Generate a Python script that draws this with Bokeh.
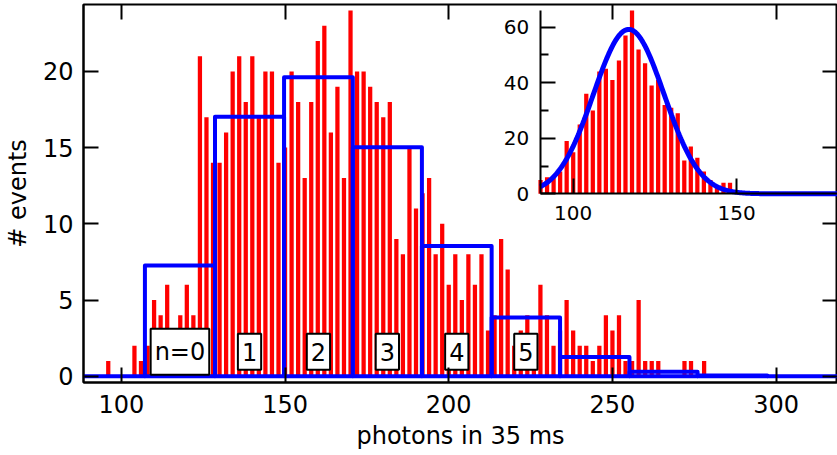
import numpy as np
from bokeh.plotting import figure
from bokeh.models import Range1d, LinearAxis, FixedTicker, ColumnDataSource
from bokeh.core.properties import value
from bokeh.embed import file_html
from bokeh.resources import INLINE

# ---------------- data ----------------
# main histogram: photon-count bins (2 photons wide) and number of events
bin_centers = list(range(96, 280, 2))
counts = [1, 0, 0, 0, 2, 1, 2, 5, 4, 6,
          3, 4, 6, 4, 21, 17, 14, 14, 16, 20,
          21, 18, 21, 17, 20, 20, 14, 15, 20, 18,
          13, 18, 22, 23, 16, 19, 13, 24, 20, 20,
          19, 18, 17, 18, 9, 8, 15, 11, 12, 13,
          8, 10, 6, 8, 5, 8, 6, 8, 3, 4,
          9, 7, 2, 3, 4, 2, 6, 4, 2, 3,
          5, 3, 2, 2, 1, 2, 4, 3, 4, 1,
          1, 5, 1, 1, 1, 0, 0, 0, 1, 1,
          0, 1]

# model step function (blue): block edges and block heights
step_edges = [88.4, 107.2, 128.6, 149.7, 170.7, 191.8, 213.1, 234.0, 255.2, 276.0, 297.3, 318.8]
step_levels = [0.0, 7.26, 17.03, 19.61, 15.02, 8.55, 3.85, 1.27, 0.30, 0.05, 0.0]
level_labels = ["n=0", "1", "2", "3", "4", "5"]
label_level_y = 1.6

# inset histogram
inset_centers = list(range(90, 150, 2))
inset_counts = [5, 6, 6, 8, 19, 15, 25, 36, 30, 44,
                45, 41, 48, 57, 66, 52, 47, 39, 41, 32,
                31, 29, 12, 17, 13, 8, 5, 3, 4, 4]
# gaussian fit in inset (amplitude, centre, width)
fit_amp, fit_mu, fit_sigma = 59.2, 117.0, 10.8

x_ticks = [100, 150, 200, 250, 300]
y_ticks = [0, 5, 10, 15, 20]
inset_x_ticks = [100, 150]
inset_y_ticks = [0, 20, 40, 60]
inset_y_minor = [10, 30, 50]

# ---------------- figure ----------------
FONT = "DejaVu Sans"
X0, X1 = 88.44, 318.74
Y0, Y1 = -0.41, 24.39
IX0, IX1 = -49.9, 180.9
IY0, IY1 = -67.95, 68.17
INSET_LEFT, INSET_TOP = 89.9, 66.0

p = figure(width=837, height=455, output_backend="svg", toolbar_location=None,
           x_range=Range1d(X0, X1), y_range=Range1d(Y0, Y1),
           x_axis_type=None, y_axis_type=None,
           min_border_left=80, min_border_right=0, min_border_top=4, min_border_bottom=73)
p.extra_x_ranges = {"ix": Range1d(IX0, IX1)}
p.extra_y_ranges = {"iy": Range1d(IY0, IY1)}
p.xgrid.visible = False
p.ygrid.visible = False
p.outline_line_color = "black"
p.outline_line_width = 2
p.background_fill_color = "white"
p.border_fill_color = "white"


def style_axis(ax, size="24px"):
    ax.axis_line_width = 2
    ax.axis_line_color = "black"
    ax.major_tick_line_width = 2
    ax.minor_tick_line_width = 2
    ax.major_tick_in = 15
    ax.major_tick_out = 0
    ax.minor_tick_in = 0
    ax.minor_tick_out = 0
    ax.major_label_text_font = FONT
    ax.major_label_text_font_size = size
    ax.major_label_text_color = "black"
    ax.axis_label_text_font = FONT
    ax.axis_label_text_font_size = "24px"
    ax.axis_label_text_font_style = "normal"
    ax.axis_label_text_color = "black"


xaxis = LinearAxis(ticker=FixedTicker(ticks=x_ticks, minor_ticks=[]), axis_label="photons in 35 ms")
style_axis(xaxis)
xaxis.major_label_standoff = 12
xaxis.axis_label_standoff = 6
p.add_layout(xaxis, "below")

yaxis = LinearAxis(ticker=FixedTicker(ticks=y_ticks, minor_ticks=[]), axis_label="# events")
style_axis(yaxis)
yaxis.major_label_standoff = 10
yaxis.axis_label_standoff = 8
p.add_layout(yaxis, "left")

top_axis = LinearAxis(ticker=FixedTicker(ticks=x_ticks, minor_ticks=[]), fixed_location=Y1)
style_axis(top_axis)
top_axis.axis_line_color = None
top_axis.major_label_text_color = None
p.add_layout(top_axis, "above")

right_axis = LinearAxis(ticker=FixedTicker(ticks=y_ticks, minor_ticks=[]), fixed_location=X1)
style_axis(right_axis)
right_axis.axis_line_color = None
right_axis.major_label_text_color = None
p.add_layout(right_axis, "right")

# main red histogram
p.vbar(x=bin_centers, top=counts, bottom=0, width=1.3, fill_color="#ff0000",
       line_color=None)

# blue step model
p.quad(left=step_edges[:-1], right=step_edges[1:], top=step_levels, bottom=0,
       fill_color=None, line_color="#0000ff", line_width=4, line_join="round")

# boxed level labels at block centres
lab_x = [(step_edges[i] + step_edges[i + 1]) / 2 for i in range(1, 1 + len(level_labels))]
lab_src = ColumnDataSource(dict(x=lab_x, y=[label_level_y] * len(lab_x), text=level_labels))
p.text(x="x", y="y", text="text", source=lab_src, anchor="center",
       text_align="center", text_baseline="middle",
       text_font=value(FONT), text_font_size="24px", text_color="black",
       background_fill_color="white", border_line_color="black",
       border_line_width=2, padding=dict(x=4, y=9))

# ---------------- inset ----------------
p.vbar(x=inset_centers, top=inset_counts, bottom=0, width=1.3, fill_color="#ff0000",
       line_color=None, x_range_name="ix", y_range_name="iy")
fx = np.linspace(INSET_LEFT, IX1, 300)
fy = fit_amp * np.exp(-(fx - fit_mu) ** 2 / (2 * fit_sigma ** 2))
p.line(fx, fy, line_color="#0000ff", line_width=5, x_range_name="ix", y_range_name="iy")

ileft = LinearAxis(x_range_name="ix", y_range_name="iy", fixed_location=INSET_LEFT,
                   bounds=(0, INSET_TOP),
                   ticker=FixedTicker(ticks=inset_y_ticks, minor_ticks=inset_y_minor))
style_axis(ileft, "20px")
ileft.minor_tick_in = 8
ileft.major_label_standoff = 11
p.add_layout(ileft, "left")

ibottom = LinearAxis(x_range_name="ix", y_range_name="iy", fixed_location=0,
                     bounds=(INSET_LEFT, IX1),
                     ticker=FixedTicker(ticks=inset_x_ticks, minor_ticks=[]))
style_axis(ibottom, "20px")
ibottom.major_label_standoff = 12
p.add_layout(ibottom, "below")

open("out.html", "w").write(file_html(p, INLINE))
